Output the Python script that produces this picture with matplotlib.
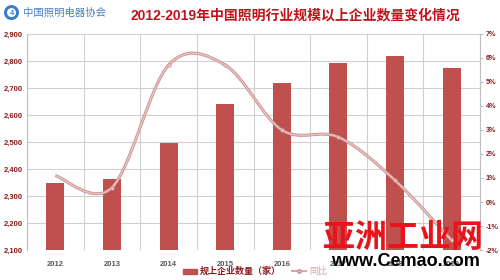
import matplotlib
matplotlib.use('Agg')
import matplotlib.pyplot as plt
import numpy as np
from matplotlib.path import Path
from matplotlib.patches import PathPatch, Patch, Ellipse
from matplotlib.lines import Line2D

plt.rcParams['font.family'] = ['Liberation Sans', 'Noto Sans CJK SC', 'DejaVu Sans']

years = ['2012', '2013', '2014', '2015', '2016', '2017', '2018', '2019']
companies = [2349, 2363, 2497, 2640, 2720, 2793, 2818, 2772]   # 规上企业数量（家）
growth = [1.1, 0.6, 5.7, 5.7, 3.0, 2.7, 0.9, -1.6]              # 同比 %

bar_color = '#c0504d'
label_red = '#8b1a1a'

fig = plt.figure(figsize=(5, 2.8), dpi=100)
ax = fig.add_axes([0.054, 0.107, 0.906, 0.772])
x = np.arange(len(years))

ax.bar(x, [c - 2100 for c in companies], bottom=2100, width=0.32,
       color=bar_color, zorder=2)
ax.set_xlim(-0.5, len(years) - 0.5)
ax.set_ylim(2100, 2900)
ax.set_yticks(range(2100, 2901, 100))
ax.set_yticklabels([f'{v:,}' for v in range(2100, 2901, 100)])
ax.set_xticks(x)
ax.set_xticklabels(years)
ax.set_xticks(np.arange(-0.5, len(years)), minor=True)
ax.grid(True, axis='y', color='#d0d0d0', lw=0.8, zorder=0)
ax.grid(True, axis='x', which='minor', color='#d0d0d0', lw=0.8, zorder=0)
ax.tick_params(axis='x', which='both', length=0, labelsize=5.5,
               labelcolor='#595959', pad=8)
ax.tick_params(axis='y', length=0, labelsize=5.5, labelcolor=label_red, pad=3)
for lab in ax.get_yticklabels() + ax.get_xticklabels():
    lab.set_fontweight('bold')
for s in ['top', 'right', 'bottom']:
    ax.spines[s].set_visible(False)
ax.spines['left'].set_color('#bfbfbf')

ax2 = ax.twinx()
ax2.set_ylim(-2, 7)
ax2.set_yticks(range(-2, 8))
ax2.set_yticklabels([f'{v}%' for v in range(-2, 8)])
ax2.tick_params(axis='y', length=2.5, color='#bfbfbf', labelsize=5.2,
                labelcolor=label_red, pad=1.5)
for lab in ax2.get_yticklabels():
    lab.set_fontweight('bold')
for s in ['top', 'left', 'bottom']:
    ax2.spines[s].set_visible(False)
ax2.spines['right'].set_color('#bfbfbf')

# smoothed line (bezier through the points)
pts = np.column_stack([x, growth]).astype(float)
verts = [tuple(pts[0])]
codes = [Path.MOVETO]
for i in range(len(pts) - 1):
    p0 = pts[i - 1] if i > 0 else pts[i]
    p1 = pts[i]
    p2 = pts[i + 1]
    p3 = pts[i + 2] if i + 2 < len(pts) else pts[i + 1]
    c1 = p1 + (p2 - p0) / 6
    c2 = p2 - (p3 - p1) / 6
    verts += [tuple(c1), tuple(c2), tuple(p2)]
    codes += [Path.CURVE4] * 3
ax2.add_patch(PathPatch(Path(verts, codes), fill=False, edgecolor='#c99090',
                        lw=2.2, zorder=3))
ax2.add_patch(PathPatch(Path(verts, codes), fill=False, edgecolor='#e8c4c4',
                        lw=1.0, zorder=4))
ax2.plot(x[1:], growth[1:], 'o', ms=2.5, color='#f0c8c8',
         markeredgecolor='#c99090', markeredgewidth=0.5, zorder=5)

fig.text(0.59, 0.945, '2012-2019年中国照明行业规模以上企业数量变化情况',
         ha='center', va='center', fontsize=10, fontweight='bold',
         color='#c0141c')

# logo
fig.patches.append(Ellipse((0.023, 0.955), 15 / 500, 15 / 280,
                           transform=fig.transFigure,
                           facecolor='#3a7cc8', edgecolor='none'))
fig.patches.append(Ellipse((0.023, 0.955), 9 / 500, 9 / 280,
                           transform=fig.transFigure,
                           facecolor='white', edgecolor='none'))
fig.text(0.023, 0.953, '4', ha='center', va='center', fontsize=5.5,
         fontweight='bold', color='#3a7cc8')
fig.text(0.046, 0.955, '中国照明电器协会', ha='left', va='center',
         fontsize=7.5, color='#4a7fc0')

handles = [Patch(color=bar_color),
           Line2D([0], [0], color='#d8a9a9', lw=1.5, marker='o', ms=2.5,
                  markerfacecolor='#f0c8c8', markeredgecolor='#c99090')]
leg = fig.legend(handles, ['规上企业数量（家）', '同比'], loc='center',
                 bbox_to_anchor=(0.51, 0.03), ncol=2, frameon=False,
                 fontsize=6.5, handlelength=1.6, handleheight=0.5,
                 columnspacing=1.2, handletextpad=0.3)
leg.get_texts()[0].set_color(label_red)
leg.get_texts()[0].set_fontweight('bold')
leg.get_texts()[1].set_color('#d8a0a0')

# watermark
fig.text(0.807, 0.147, '亚洲工业网', ha='center', va='center', fontsize=23,
         fontweight='bold', color='#e8141c', zorder=10)
fig.text(0.81, 0.065, 'www.Cemao.com', ha='center', va='center',
         fontsize=13, fontweight='bold', color='black', zorder=10)

fig.savefig('out.png', dpi=100)
